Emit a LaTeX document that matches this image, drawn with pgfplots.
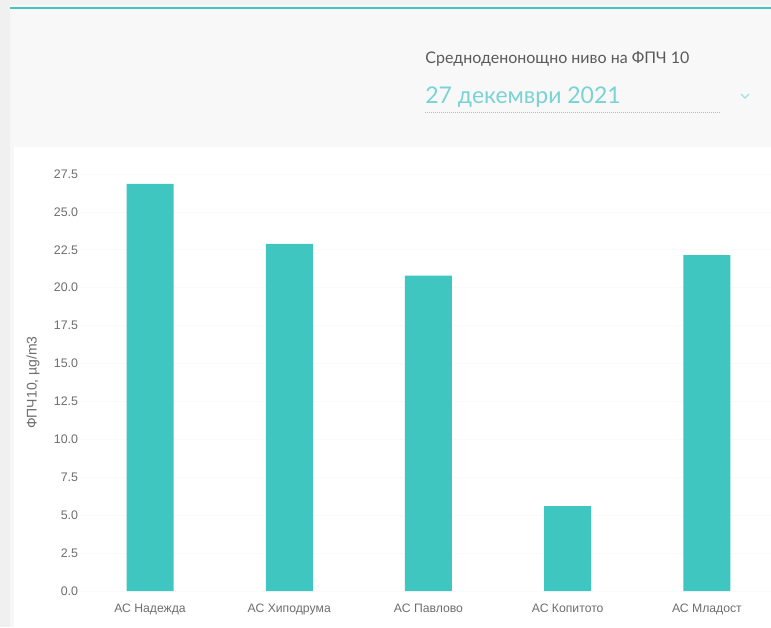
\documentclass[border=0pt]{standalone}
\usepackage{pgfplots}
\pgfplotsset{compat=1.18}
\usepackage{fontspec}
\setmainfont{Liberation Sans}
\newfontfamily\titlefont{Lato}
\definecolor{barteal}{HTML}{3FC6C1}
\definecolor{topteal}{HTML}{45C4C4}
\definecolor{datecol}{HTML}{7AD3D3}
\definecolor{tickgray}{HTML}{6E6E6E}
\definecolor{titlegray}{HTML}{5A5A5A}
\definecolor{bggray}{HTML}{F8F8F8}
\begin{document}
\begin{tikzpicture}
% page background (1px = 0.5pt)
\path[use as bounding box] (0,0) rectangle (385.5pt,313.5pt);
\fill[white] (0,0) rectangle (385.5pt,313.5pt);
\fill[bggray] (0,240pt) rectangle (385.5pt,313.5pt);
\fill[gray!12] (0,0) rectangle (5pt,313.5pt);
\fill[gray!6] (5pt,0) rectangle (7pt,313.5pt);
\fill[gray!10] (5pt,311pt) rectangle (385.5pt,313.5pt);
\draw[topteal, line width=1.3pt] (5pt,309.5pt) -- (385.5pt,309.5pt);
% header texts
\node[anchor=base west, inner sep=0pt, text=titlegray] at (212.5pt,281.5pt)
  {\titlefont\fontsize{8}{9.6}\selectfont Средноденонощно ниво на ФПЧ 10};
\node[anchor=base west, inner sep=0pt, text=datecol] at (212.5pt,261.5pt)
  {\titlefont\fontsize{11.5}{13.8}\selectfont 27 декември 2021};
\draw[datecol, line width=0.5pt, dash pattern=on 0.5pt off 0.5pt] (212.5pt,257pt) -- (360.5pt,257pt);
\draw[datecol!70, line width=0.6pt] (370.5pt,266.5pt) -- (372.5pt,264.5pt) -- (374.5pt,266.5pt);
\begin{axis}[
  at={(40.2pt,18pt)}, anchor=south west,
  scale only axis,
  width=345.3pt, height=208.5pt,
  xmin=-0.5, xmax=4.46,
  ymin=0, ymax=27.5,
  ytick={0,2.5,...,27.5},
  xtick=data,
  xticklabels={АС Надежда, АС Хиподрума, АС Павлово, АС Копитото, АС Младост},
  axis line style={draw=none},
  major tick length=0pt,
  ymajorgrids,
  grid style={gray!4, line width=0.4pt},
  /pgf/number format/.cd, fixed, fixed zerofill, precision=1, assume math mode=true,
  /pgfplots/.cd,
  yticklabel style={font=\fontsize{6.2}{7}\selectfont, text=tickgray, anchor=east, inner sep=1pt},
  xticklabel style={font=\fontsize{6.1}{7.4}\selectfont, text=tickgray, anchor=north, yshift=-3pt},
  ylabel={ФПЧ10, µg/m3},
  every axis y label/.style={at={(axis description cs:-0.0686,0.5)}, anchor=center, rotate=90,
    font=\fontsize{7}{8.4}\selectfont, text=tickgray},
  ybar, bar width=23.5pt,
  clip=false,
]
\addplot[fill=barteal, draw=none] coordinates {(0,26.85) (1,22.9) (2,20.8) (3,5.6) (4,22.15)};
\end{axis}
\end{tikzpicture}
\end{document}
